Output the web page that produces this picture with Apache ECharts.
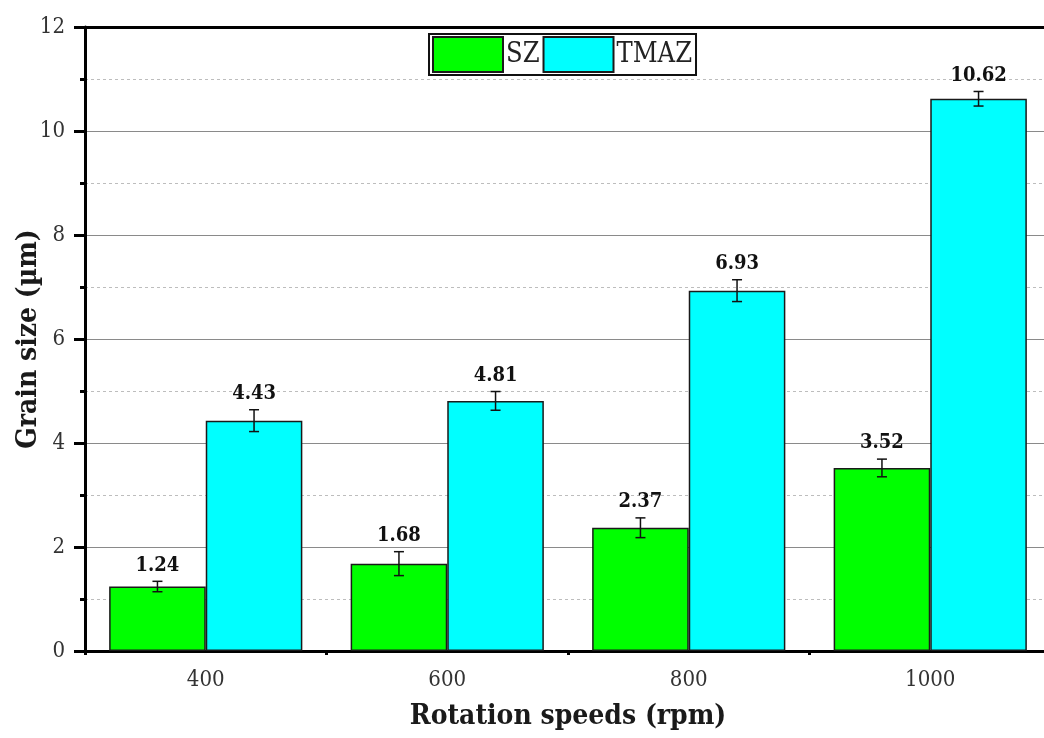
<!DOCTYPE html>
<html>
<head>
<meta charset="utf-8">
<title>Grain size vs rotation speed</title>
<script src="https://cdn.jsdelivr.net/npm/echarts@6/dist/echarts.min.js"></script>
<style>
  html, body { margin: 0; padding: 0; background: #fff; }
  #chart { width: 1044px; height: 738px; }
</style>
</head>
<body>
<div id="chart"></div>
<script>
// Rotation speeds (rpm) and mean grain sizes (µm) with their deviations
const categories = ['400', '600', '800', '1000'];
const szValues = [1.24, 1.68, 2.37, 3.52];
const szErrors = [0.10, 0.23, 0.19, 0.17];
const tmazValues = [4.43, 4.81, 6.93, 10.62];
const tmazErrors = [0.21, 0.18, 0.21, 0.14];
const yTicks = [0, 2, 4, 6, 8, 10, 12];

const serif = '"DejaVu Serif Condensed", "Liberation Serif", serif';
const chart = echarts.init(document.getElementById('chart'));

// Error bar + value label, drawn at the centre of the matching bar.
// offset is the bar centre relative to the category centre, as a fraction of the band.
function errorBarSeries(name, values, errors, offset) {
  return {
    name: name,
    type: 'custom',
    xAxisIndex: 0,
    yAxisIndex: 0,
    z: 5,
    data: values.map((v, i) => [i, v, errors[i]]),
    encode: { x: 0, y: 1 },
    renderItem: function (params, api) {
      const ci = api.value(0), v = api.value(1), e = api.value(2);
      const band = api.size([1, 0])[0];
      const hi = api.coord([ci, v + e]);
      const lo = api.coord([ci, v - e]);
      const x = hi[0] + offset * band;
      const cap = 5;
      const stroke = { stroke: '#111', lineWidth: 1.5 };
      return {
        type: 'group',
        children: [
          { type: 'line', shape: { x1: x, y1: hi[1], x2: x, y2: lo[1] }, style: stroke },
          { type: 'line', shape: { x1: x - cap, y1: hi[1], x2: x + cap, y2: hi[1] }, style: stroke },
          { type: 'line', shape: { x1: x - cap, y1: lo[1], x2: x + cap, y2: lo[1] }, style: stroke },
          {
            type: 'text',
            style: {
              x: x, y: hi[1] - 6,
              text: v.toFixed(2),
              align: 'center', verticalAlign: 'bottom',
              font: 'bold 20px ' + serif,
              fill: '#111'
            }
          }
        ]
      };
    }
  };
}

const option = {
  backgroundColor: '#fff',
  animation: false,
  grid: { left: 85, top: 27, bottom: 87, width: 966, outerBoundsMode: 'none', containLabel: false },
  legend: {
    data: ['SZ', 'TMAZ'],
    left: 429, top: 34,
    orient: 'horizontal',
    itemWidth: 70, itemHeight: 35, itemGap: 3,
    padding: [2, 4, 2, 3],
    borderColor: '#111', borderWidth: 2,
    backgroundColor: '#fff',
    icon: 'rect',
    textStyle: { fontFamily: serif, fontSize: 27, color: '#222', padding: [0, 0, 0, -2] }
  },
  xAxis: [
    {
      type: 'category',
      data: categories,
      position: 'bottom',
      name: 'Rotation speeds (rpm)',
      nameLocation: 'middle',
      nameGap: 52,
      nameMoveOverlap: false,
      nameTextStyle: { fontFamily: serif, fontSize: 28, fontWeight: 'bold', color: '#1a1a1a' },
      axisLine: { lineStyle: { color: '#000', width: 3 } },
      axisTick: { alignWithLabel: true, length: 10, lineStyle: { color: '#000', width: 3 } },
      axisLabel: { fontFamily: serif, fontSize: 22, color: '#333', margin: 18 },
      splitLine: { show: false }
    },
    {
      // short boundary ticks between the groups
      type: 'category',
      data: categories,
      position: 'bottom',
      axisLine: { show: false },
      axisTick: { show: true, length: 4, lineStyle: { color: '#000', width: 3 } },
      axisLabel: { show: false },
      splitLine: { show: false }
    },
    {
      // frame line along the top of the plot
      type: 'category',
      data: categories,
      position: 'top',
      axisLine: { lineStyle: { color: '#000', width: 3 } },
      axisTick: { show: false },
      axisLabel: { show: false },
      splitLine: { show: false }
    }
  ],
  yAxis: {
    type: 'value',
    min: yTicks[0],
    max: yTicks[yTicks.length - 1],
    interval: 2,
    name: 'Grain size (µm)',
    nameLocation: 'middle',
    nameGap: 42,
    nameMoveOverlap: false,
    nameTextStyle: { fontFamily: serif, fontSize: 28, fontWeight: 'bold', color: '#1a1a1a' },
    axisLine: { show: true, lineStyle: { color: '#000', width: 3 } },
    axisTick: { show: true, length: 11, lineStyle: { color: '#000', width: 3 } },
    minorTick: { show: true, splitNumber: 2, length: 5, lineStyle: { color: '#000', width: 3 } },
    axisLabel: { fontFamily: serif, fontSize: 22, color: '#333', margin: 20 },
    splitLine: { show: true, lineStyle: { color: '#8a8a8a', width: 1 } },
    minorSplitLine: { show: true, lineStyle: { color: '#bdbdbd', width: 1, type: [3, 3] } }
  },
  series: [
    {
      name: 'SZ',
      type: 'bar',
      xAxisIndex: 0,
      data: szValues,
      barGap: '0%',
      barCategoryGap: '20%',
      itemStyle: { color: '#00ff00', borderColor: '#1a1a1a', borderWidth: 1.5 }
    },
    {
      name: 'TMAZ',
      type: 'bar',
      xAxisIndex: 0,
      data: tmazValues,
      barGap: '0%',
      barCategoryGap: '20%',
      itemStyle: { color: '#00ffff', borderColor: '#1a1a1a', borderWidth: 1.5 }
    },
    errorBarSeries('SZ error', szValues, szErrors, -0.2),
    errorBarSeries('TMAZ error', tmazValues, tmazErrors, 0.2)
  ]
};

chart.setOption(option);
</script>
</body>
</html>
